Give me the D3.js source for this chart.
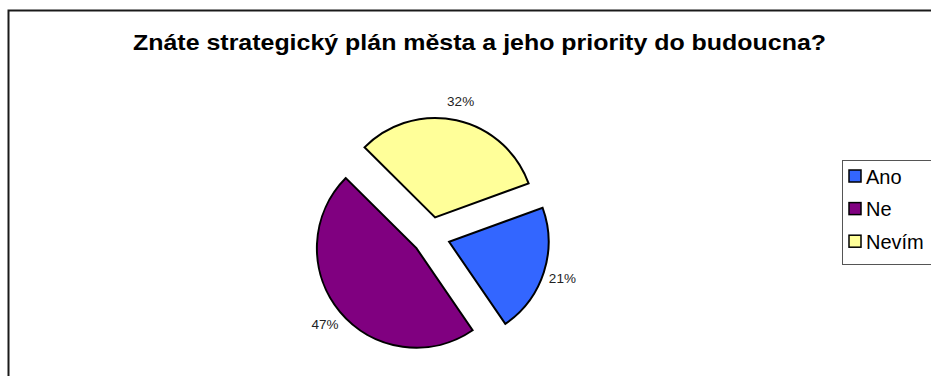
<!DOCTYPE html>
<html>
<head>
<meta charset="utf-8">
<script src="https://cdn.jsdelivr.net/npm/d3@7"></script>
<style>
  html, body { margin: 0; padding: 0; background: #fff; }
  svg { display: block; }
  text { font-family: "Liberation Sans", Arial, sans-serif; }
</style>
</head>
<body>
<svg id="chart" width="931" height="376"></svg>
<script>
// Survey answers and their shares (percent)
const categories = ["Ano", "Ne", "Nevím"];
const values = [21, 47, 32];
const colors = ["#3366FF", "#800080", "#FFFF99"];
const title = "Znáte strategický plán města a jeho priority do budoucna?";

const svg = d3.select("#chart");

// outer chart frame (runs past the right and bottom edges)
svg.append("rect")
  .attr("x", 8.5).attr("y", 10.5)
  .attr("width", 1000).attr("height", 1000)
  .attr("fill", "#fff")
  .attr("stroke", "#1a1a1a")
  .attr("stroke-width", 2);

// title
svg.append("text")
  .attr("x", 133).attr("y", 50)
  .attr("font-size", 22)
  .attr("font-weight", "bold")
  .attr("fill", "#000")
  .attr("textLength", 693)
  .attr("lengthAdjust", "spacingAndGlyphs")
  .text(title);

// exploded pie, first slice starting at 70 degrees clockwise from 12 o'clock
const cx = 431, cy = 236, radius = 99.5, explode = 19, labelDist = 119;
const start = 70 * Math.PI / 180;
const pie = d3.pie().sort(null).startAngle(start).endAngle(start + 2 * Math.PI);
const arc = d3.arc().innerRadius(0).outerRadius(radius);
const arcs = pie(values);

const g = svg.append("g").attr("transform", `translate(${cx},${cy})`);

const slice = g.selectAll("g.slice").data(arcs).join("g")
  .attr("class", "slice")
  .attr("transform", d => {
    const a = (d.startAngle + d.endAngle) / 2;
    return `translate(${explode * Math.sin(a)},${-explode * Math.cos(a)})`;
  });

slice.append("path")
  .attr("d", arc)
  .attr("fill", (d, i) => colors[i])
  .attr("stroke", "#000")
  .attr("stroke-width", 2)
  .attr("stroke-linejoin", "miter");

slice.append("text")
  .attr("x", d => labelDist * Math.sin((d.startAngle + d.endAngle) / 2))
  .attr("y", d => -labelDist * Math.cos((d.startAngle + d.endAngle) / 2))
  .attr("dy", "0.36em")
  .attr("text-anchor", "middle")
  .attr("font-size", 13.5)
  .attr("fill", "#222")
  .text(d => d.data + "%");

// legend
const legend = svg.append("g");
legend.append("rect")
  .attr("x", 842.5).attr("y", 160.5)
  .attr("width", 200).attr("height", 104)
  .attr("fill", "#fff")
  .attr("stroke", "#555")
  .attr("stroke-width", 1);

const item = legend.selectAll("g.item").data(categories).join("g")
  .attr("class", "item")
  .attr("transform", (d, i) => `translate(0,${i * 32.6})`);

item.append("rect")
  .attr("x", 849).attr("y", 170)
  .attr("width", 12).attr("height", 12)
  .attr("fill", (d, i) => colors[i])
  .attr("stroke", "#000")
  .attr("stroke-width", 1.5);

item.append("text")
  .attr("x", 866).attr("y", 183.5)
  .attr("font-size", 20)
  .attr("fill", "#000")
  .text(d => d);
</script>
</body>
</html>
